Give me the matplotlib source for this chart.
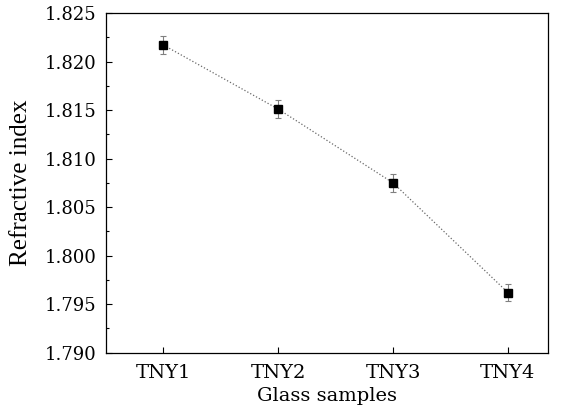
import matplotlib.pyplot as plt
from matplotlib.ticker import MultipleLocator

muestras = ['TNY1', 'TNY2', 'TNY3', 'TNY4']
indice = [1.8217, 1.8151, 1.8075, 1.7962]
error = [0.0009, 0.0009, 0.0009, 0.0009]

plt.rcParams['font.family'] = 'DejaVu Serif'
plt.rcParams['font.size'] = 13

fig = plt.figure(figsize=(5.63, 4.07), dpi=100)
ax = fig.add_axes([106/563, 1-352.7/407, 442/563, 339.7/407])

pos = list(range(1, len(muestras)+1))
ax.errorbar(pos, indice, yerr=error, fmt='s', color='black', markersize=5.5,
            ecolor='gray', elinewidth=0.8, capsize=2.5, capthick=0.8, zorder=3)
ax.plot(pos, indice, ':', color='dimgray', linewidth=0.9, zorder=2)

ax.set_xlim(0.5, 4.35)
ax.set_ylim(1.790, 1.825)
ax.set_xticks(pos)
ax.set_xticklabels(muestras, fontsize=14)
ax.yaxis.set_major_locator(MultipleLocator(0.005))
ax.yaxis.set_minor_locator(MultipleLocator(0.0025))
ax.yaxis.set_major_formatter(plt.FormatStrFormatter('%.3f'))
ax.tick_params(direction='in', length=4, width=0.8, pad=7)
ax.tick_params(axis='x', pad=8)
ax.tick_params(which='minor', direction='in', length=2.5, width=0.8)
for s in ax.spines.values():
    s.set_linewidth(0.9)
ax.set_xlabel('Glass samples', fontsize=14, labelpad=4)
ax.set_ylabel('Refractive index', family='Liberation Serif', fontsize=18, labelpad=9)
fig.savefig('out.png')
